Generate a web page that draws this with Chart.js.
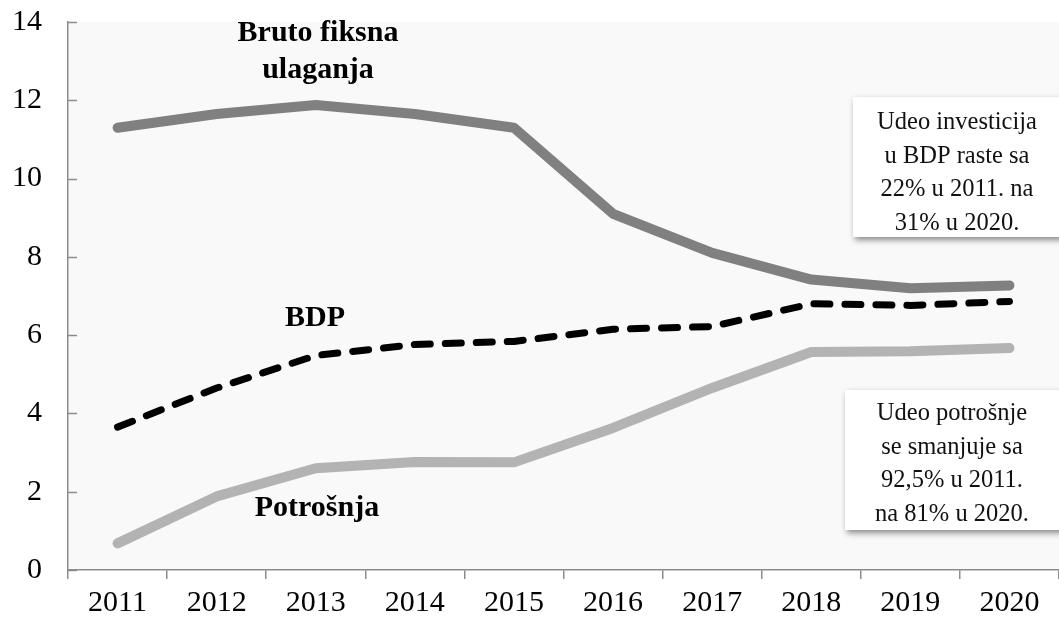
<!DOCTYPE html>
<html><head><meta charset="utf-8">
<script src="https://cdn.jsdelivr.net/npm/chart.js@4/dist/chart.umd.min.js"></script>
<style>html,body{margin:0;padding:0;background:#fff;}#wrap{width:1059px;height:628px;position:relative;}</style>
</head><body><div id="wrap"><canvas id="c" width="1059" height="628"></canvas></div>
<script>
const years = ['2011','2012','2013','2014','2015','2016','2017','2018','2019','2020'];
const brutoFiksnaUlaganja = [11.3, 11.65, 11.88, 11.65, 11.3, 9.1, 8.1, 7.42, 7.2, 7.27];
const bdp = [3.65, 4.65, 5.48, 5.76, 5.84, 6.15, 6.22, 6.8, 6.76, 6.86];
const potrosnja = [0.68, 1.88, 2.6, 2.76, 2.75, 3.63, 4.65, 5.57, 5.59, 5.67];
const yTicks = [0, 2, 4, 6, 8, 10, 12, 14];
const box1Lines = ['Udeo investicija', 'u BDP raste sa', '22% u 2011. na', '31% u 2020.'];
const box2Lines = ['Udeo potrošnje', 'se smanjuje sa', '92,5% u 2011.', 'na 81% u 2020.'];

const SERIF = '"Liberation Serif", "DejaVu Serif", serif';

const bgPlugin = {
  id: 'bg',
  beforeDraw(chart) {
    const {ctx, chartArea: a} = chart;
    ctx.save();
    ctx.fillStyle = '#f9f9f9';
    ctx.fillRect(a.left, a.top, a.right - a.left, a.bottom - a.top);
    ctx.restore();
  },
  afterDatasetsDraw(chart) {
    const {ctx, chartArea: a, scales} = chart;
    const y = scales.y;
    ctx.save();
    ctx.strokeStyle = '#8c8c8c';
    ctx.lineWidth = 1.5;
    yTicks.forEach(v => {
      const py = Math.round(y.getPixelForValue(v)) + 0.5;
      ctx.beginPath(); ctx.moveTo(a.left, py); ctx.lineTo(a.left + 9, py); ctx.stroke();
    });
    ctx.fillStyle = '#000';
    ctx.textAlign = 'center';
    ctx.textBaseline = 'middle';
    ctx.font = 'bold 30px ' + SERIF;
    ctx.fillText('Bruto fiksna', 318, 33);
    ctx.fillText('ulaganja', 318, 70);
    ctx.fillText('BDP', 315, 318);
    ctx.fillText('Potrošnja', 317, 508);
    const drawBox = (x, yy, w, h, lines, cx, startY) => {
      ctx.save();
      ctx.shadowColor = 'rgba(0,0,0,0.45)';
      ctx.shadowBlur = 6;
      ctx.shadowOffsetX = 2;
      ctx.shadowOffsetY = 3;
      ctx.fillStyle = '#fff';
      ctx.fillRect(x, yy, w, h);
      ctx.restore();
      ctx.fillStyle = '#111';
      ctx.font = '24.5px ' + SERIF;
      ctx.textAlign = 'center';
      ctx.textBaseline = 'middle';
      lines.forEach((t, i) => ctx.fillText(t, cx, startY + i * 33.5));
    };
    drawBox(853, 97, 210, 140, box1Lines, 957, 123);
    drawBox(845, 390, 218, 140, box2Lines, 952, 414);
    ctx.restore();
  }
};

new Chart(document.getElementById('c'), {
  type: 'line',
  data: {
    labels: years,
    datasets: [
      {label: 'Bruto fiksna ulaganja', data: brutoFiksnaUlaganja, borderColor: '#808080', borderWidth: 10, pointRadius: 0, tension: 0, borderCapStyle: 'round', borderJoinStyle: 'round'},
      {label: 'BDP', data: bdp, borderColor: '#000', borderWidth: 7, pointRadius: 0, tension: 0, borderDash: [16, 15], borderCapStyle: 'round', borderJoinStyle: 'round'},
      {label: 'Potrošnja', data: potrosnja, borderColor: '#b3b3b3', borderWidth: 10, pointRadius: 0, tension: 0, borderCapStyle: 'round', borderJoinStyle: 'round'}
    ]
  },
  options: {
    responsive: false,
    animation: false,
    devicePixelRatio: 1,
    layout: {padding: {top: 22, right: 0, left: 0, bottom: 0}},
    plugins: {legend: {display: false}, tooltip: {enabled: false}},
    scales: {
      x: {
        offset: true,
        grid: {offset: true, drawOnChartArea: false, drawTicks: true, tickLength: 9, color: '#8c8c8c', lineWidth: 1.5},
        border: {display: true, color: '#8c8c8c', width: 1.5},
        ticks: {color: '#000', font: {family: SERIF, size: 30}, padding: 6, maxRotation: 0, autoSkip: false},
        afterFit(s) { s.height = 58; s.paddingLeft = 0; s.paddingRight = 0; }
      },
      y: {
        min: 0, max: 14,
        afterBuildTicks(s) { s.ticks = yTicks.map(v => ({value: v})); },
        grid: {display: false},
        border: {display: true, color: '#8c8c8c', width: 1.5},
        ticks: {color: '#000', font: {family: SERIF, size: 30}, padding: 18},
        afterFit(s) { s.width = 68; s.paddingTop = 0; s.paddingBottom = 0; }
      }
    }
  },
  plugins: [bgPlugin]
});
</script></body></html>
